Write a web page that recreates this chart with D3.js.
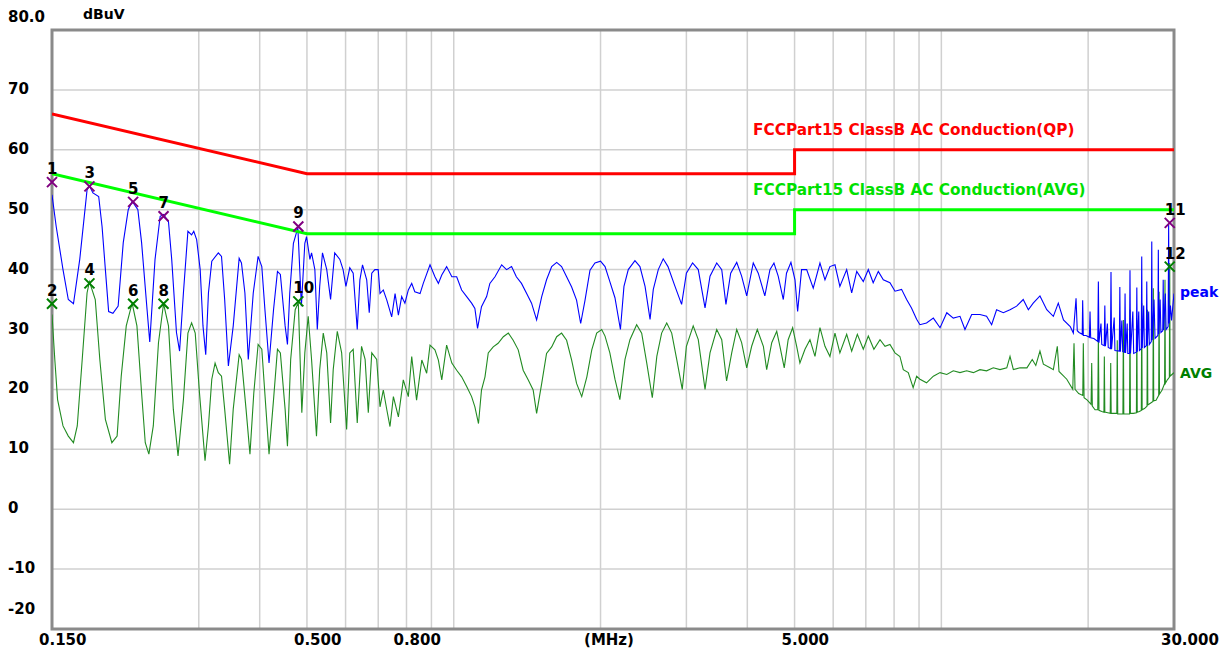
<!DOCTYPE html>
<html>
<head>
<meta charset="utf-8">
<script src="https://cdn.jsdelivr.net/npm/d3@7"></script>
<style>
  html, body { margin: 0; padding: 0; background: #fff; }
  svg { display: block; }
  text { font-family: "DejaVu Sans", Arial, sans-serif; font-weight: bold; }
</style>
</head>
<body>
<svg id="chart" width="1228" height="652"></svg>
<script>
// ---------------- data ----------------
const yTickValues = [80, 70, 60, 50, 40, 30, 20, 10, 0, -10, -20];
const yTickLabels = ["80.0", "70", "60", "50", "40", "30", "20", "10", "0", "-10", "-20"];
const yGridValues = [70, 60, 50, 40, 30, 20, 10, 0, -10];
const xGridFreqs = [0.3, 0.4, 0.5, 0.6, 0.7, 0.8, 0.9, 1, 2, 3, 4, 5, 6, 7, 8, 9, 10, 20];
const xLabelFreqs = [0.15, 0.5, 0.8, 5, 30];
const xLabelTexts = ["0.150", "0.500", "0.800", "5.000", "30.000"];
const yUnit = "dBuV";
const xUnit = "(MHz)";

const limitQP = [[0.15, 66], [0.5, 56], [5, 56], [5, 60], [30, 60]];
const limitAVG = [[0.15, 56], [0.5, 46], [5, 46], [5, 50], [30, 50]];
const limitQPName = "FCCPart15 ClassB AC Conduction(QP)";
const limitAVGName = "FCCPart15 ClassB AC Conduction(AVG)";

const peakTrace = [[0.150,52.5],[0.153,47.2],[0.158,40.0],[0.162,35.0],[0.166,34.3],[0.171,41.7],[0.177,53.3],[0.179,54.0],[0.182,52.8],[0.187,52.2],[0.190,47.2],[0.193,40.0],[0.196,33.0],[0.200,32.7],[0.205,33.9],[0.210,44.5],[0.215,50.0],[0.219,51.4],[0.225,50.0],[0.229,44.5],[0.235,33.3],[0.238,27.9],[0.244,41.7],[0.250,48.9],[0.254,49.2],[0.260,48.0],[0.264,41.7],[0.270,29.5],[0.274,26.4],[0.279,36.1],[0.285,46.4],[0.290,45.8],[0.293,46.4],[0.297,45.0],[0.302,40.0],[0.306,30.6],[0.310,25.8],[0.314,36.1],[0.319,41.4],[0.329,42.8],[0.334,42.2],[0.339,35.0],[0.345,23.9],[0.353,30.6],[0.363,41.9],[0.367,41.1],[0.373,36.1],[0.379,25.0],[0.388,36.1],[0.397,42.2],[0.404,40.5],[0.410,33.3],[0.418,24.4],[0.427,33.3],[0.435,39.7],[0.441,39.2],[0.451,30.6],[0.456,27.5],[0.461,36.1],[0.469,44.4],[0.479,47.0],[0.487,33.9],[0.495,44.4],[0.499,45.5],[0.507,41.7],[0.511,42.8],[0.519,40.0],[0.525,30.0],[0.531,37.2],[0.538,42.8],[0.549,40.0],[0.559,35.0],[0.570,42.8],[0.584,41.7],[0.593,40.0],[0.601,37.2],[0.612,40.3],[0.622,39.4],[0.634,30.0],[0.642,38.3],[0.650,40.8],[0.663,38.3],[0.671,32.8],[0.679,39.4],[0.689,40.0],[0.700,40.0],[0.706,36.0],[0.717,36.6],[0.729,34.9],[0.746,32.1],[0.758,36.0],[0.770,32.4],[0.782,35.5],[0.794,34.4],[0.807,36.6],[0.820,37.7],[0.832,36.3],[0.853,36.0],[0.866,37.7],[0.894,40.8],[0.915,38.8],[0.930,37.7],[0.945,39.1],[0.967,40.5],[0.991,38.8],[1.014,38.8],[1.038,36.6],[1.063,35.5],[1.088,34.4],[1.105,33.5],[1.119,30.2],[1.140,33.8],[1.168,35.5],[1.186,37.7],[1.215,38.8],[1.254,40.8],[1.283,40.0],[1.314,40.5],[1.344,38.8],[1.377,37.7],[1.411,36.0],[1.444,34.4],[1.479,31.6],[1.515,35.5],[1.550,38.3],[1.588,40.5],[1.626,41.2],[1.664,40.5],[1.704,38.8],[1.745,37.1],[1.786,34.9],[1.821,31.0],[1.859,34.9],[1.903,39.9],[1.948,41.1],[2.000,41.4],[2.043,40.5],[2.090,38.0],[2.141,35.3],[2.197,30.0],[2.234,37.2],[2.280,40.0],[2.353,41.5],[2.409,40.5],[2.468,37.2],[2.527,31.7],[2.566,36.7],[2.627,40.0],[2.689,41.8],[2.750,40.5],[2.843,37.2],[2.933,34.2],[3.000,39.4],[3.089,41.1],[3.173,40.0],[3.276,33.6],[3.354,38.9],[3.462,41.1],[3.545,40.0],[3.616,34.2],[3.698,39.4],[3.805,41.2],[3.894,38.9],[3.989,35.6],[4.114,41.1],[4.212,39.4],[4.345,35.6],[4.451,40.0],[4.536,41.1],[4.628,38.9],[4.741,35.0],[4.813,39.4],[4.915,41.2],[5.010,38.3],[5.073,33.0],[5.168,40.0],[5.294,40.0],[5.461,36.9],[5.637,41.1],[5.772,38.3],[5.909,40.5],[6.051,40.8],[6.193,37.2],[6.395,40.0],[6.548,36.1],[6.706,39.7],[6.917,38.0],[7.083,40.0],[7.248,37.8],[7.425,39.7],[7.603,38.3],[7.845,37.8],[8.034,36.4],[8.288,36.7],[8.488,35.0],[8.685,33.6],[8.898,31.7],[9.038,30.8],[9.324,31.1],[9.629,31.9],[9.939,30.3],[10.26,32.8],[10.58,31.9],[10.92,32.2],[11.18,30.0],[11.54,32.5],[12.00,32.5],[12.38,32.2],[12.68,30.8],[12.98,33.3],[13.40,32.8],[13.83,33.3],[14.27,33.9],[14.72,35.0],[15.08,33.3],[15.43,34.4],[15.93,35.6],[16.45,33.3],[16.97,32.2],[17.37,34.4],[17.80,31.6],[18.38,30.5],[18.65,29.4],[18.89,35.2],[19.00,29.8],[19.16,29.5],[19.45,29.2],[19.49,34.9],[19.55,29.0],[19.80,29.0],[20.12,28.7],[20.18,33.0],[20.24,28.6],[20.55,28.5],[20.93,28.0],[20.99,38.0],[21.05,27.8],[21.25,31.0],[21.33,27.5],[21.58,27.3],[21.64,34.0],[21.70,27.2],[21.90,31.0],[21.99,27.0],[22.22,26.8],[22.28,39.6],[22.34,26.7],[22.62,32.0],[22.70,26.5],[23.17,26.4],[23.23,37.1],[23.29,26.3],[23.45,31.5],[23.55,26.3],[23.75,26.2],[23.81,36.0],[23.87,26.1],[24.05,31.0],[24.12,26.0],[24.31,26.0],[24.37,39.9],[24.43,26.0],[24.70,33.0],[24.80,26.0],[25.11,26.2],[25.17,37.0],[25.23,26.3],[25.40,33.0],[25.48,26.5],[25.70,26.8],[25.76,42.2],[25.82,26.9],[26.00,34.0],[26.08,27.0],[26.32,27.3],[26.38,38.0],[26.44,27.3],[26.62,33.0],[26.70,27.5],[26.95,28.0],[27.01,44.7],[27.07,28.2],[27.30,35.0],[27.43,28.5],[27.80,29.0],[27.86,43.3],[27.92,29.2],[28.10,35.0],[28.20,29.5],[28.45,29.8],[28.51,38.3],[28.57,29.9],[28.80,36.0],[28.90,30.0],[29.18,30.5],[29.25,47.5],[29.32,31.0],[29.50,34.0],[29.65,31.5],[30.00,36.0]];

const avgTrace = [[0.150,32.5],[0.152,25.0],[0.154,18.3],[0.158,13.9],[0.162,12.2],[0.166,11.1],[0.169,13.9],[0.173,25.0],[0.177,36.1],[0.179,38.0],[0.184,35.0],[0.188,25.0],[0.193,15.0],[0.199,11.1],[0.204,12.2],[0.208,22.2],[0.213,30.6],[0.219,34.4],[0.224,30.6],[0.229,19.4],[0.233,11.1],[0.237,9.2],[0.242,13.9],[0.248,27.8],[0.254,34.3],[0.260,30.6],[0.266,16.7],[0.272,8.9],[0.279,18.3],[0.285,29.4],[0.290,31.1],[0.295,29.4],[0.301,19.4],[0.309,8.1],[0.314,13.9],[0.319,21.7],[0.324,24.4],[0.329,22.8],[0.334,22.2],[0.339,16.7],[0.347,7.5],[0.353,16.7],[0.363,25.8],[0.367,25.0],[0.375,16.7],[0.382,9.2],[0.389,19.4],[0.397,27.5],[0.404,26.7],[0.412,16.7],[0.418,9.2],[0.427,18.3],[0.435,26.7],[0.441,26.1],[0.451,16.7],[0.456,10.5],[0.463,25.0],[0.473,33.3],[0.480,34.5],[0.488,16.1],[0.495,26.1],[0.503,32.2],[0.511,25.0],[0.523,12.2],[0.531,23.3],[0.540,29.4],[0.549,26.1],[0.559,14.4],[0.566,23.3],[0.577,29.7],[0.589,26.1],[0.603,13.3],[0.612,26.1],[0.622,26.7],[0.634,14.4],[0.647,27.2],[0.658,25.0],[0.668,16.1],[0.679,26.1],[0.695,25.0],[0.706,17.1],[0.717,19.9],[0.729,16.6],[0.740,13.8],[0.752,18.8],[0.770,15.4],[0.788,21.6],[0.807,18.8],[0.820,25.5],[0.839,18.2],[0.860,24.9],[0.880,22.7],[0.894,27.4],[0.915,26.6],[0.930,24.9],[0.945,21.6],[0.967,27.4],[0.991,24.4],[1.014,23.2],[1.038,22.1],[1.063,20.5],[1.088,18.8],[1.105,17.1],[1.124,14.3],[1.140,19.9],[1.159,22.1],[1.177,26.1],[1.205,27.1],[1.233,27.7],[1.264,28.8],[1.294,29.4],[1.324,28.2],[1.356,26.6],[1.388,23.2],[1.421,21.6],[1.455,19.9],[1.479,16.0],[1.515,21.0],[1.550,26.0],[1.588,27.1],[1.626,28.8],[1.664,29.4],[1.704,28.2],[1.745,24.9],[1.786,21.0],[1.830,18.8],[1.875,22.1],[1.919,26.6],[1.964,29.4],[2.011,30.0],[2.043,28.9],[2.090,26.1],[2.141,21.7],[2.191,18.3],[2.245,25.0],[2.298,28.3],[2.372,30.8],[2.429,29.4],[2.488,24.4],[2.554,18.6],[2.609,25.5],[2.669,29.4],[2.734,31.1],[2.799,29.4],[2.866,25.0],[2.942,20.0],[3.000,27.2],[3.098,30.6],[3.173,28.3],[3.276,20.0],[3.354,26.1],[3.462,30.0],[3.545,28.3],[3.627,21.4],[3.716,26.1],[3.805,30.0],[3.894,27.8],[3.989,23.6],[4.083,27.2],[4.193,30.0],[4.315,27.2],[4.383,23.3],[4.489,27.8],[4.596,29.7],[4.666,27.2],[4.762,23.6],[4.851,28.3],[4.955,30.3],[5.050,27.2],[5.128,24.4],[5.252,26.7],[5.377,28.3],[5.506,25.5],[5.637,30.3],[5.772,27.2],[5.909,25.5],[6.051,29.4],[6.193,26.1],[6.395,29.2],[6.548,26.4],[6.725,29.2],[6.917,26.7],[7.083,28.9],[7.272,26.7],[7.485,28.3],[7.664,27.2],[7.845,27.5],[8.034,26.1],[8.223,25.5],[8.355,23.3],[8.553,22.8],[8.753,20.3],[8.898,22.2],[9.038,21.7],[9.324,21.1],[9.629,22.2],[9.939,22.8],[10.26,22.5],[10.58,23.1],[10.92,22.8],[11.27,23.1],[11.63,22.8],[12.00,23.3],[12.38,23.1],[12.78,23.6],[13.19,23.3],[13.62,23.6],[13.83,25.5],[14.05,23.3],[14.50,23.6],[14.98,23.6],[15.36,25.0],[15.62,24.0],[15.93,26.4],[16.19,24.2],[16.71,23.6],[16.97,23.3],[17.29,27.2],[17.43,23.0],[18.08,21.7],[18.60,20.0],[18.71,27.7],[18.80,20.0],[19.13,19.3],[19.50,19.0],[19.55,27.7],[19.62,18.6],[19.92,18.2],[20.28,17.5],[20.34,24.4],[20.40,17.2],[20.66,16.6],[20.93,16.6],[20.99,28.8],[21.05,16.5],[21.33,16.3],[21.55,16.2],[21.59,25.5],[21.64,16.2],[21.94,16.1],[22.20,16.0],[22.25,24.4],[22.30,16.0],[22.60,16.0],[22.90,16.0],[22.95,28.2],[23.00,15.9],[23.28,15.9],[23.57,15.9],[23.62,31.6],[23.67,15.9],[24.01,15.9],[24.32,15.9],[24.37,33.3],[24.42,16.0],[24.76,16.0],[25.12,16.1],[25.17,31.6],[25.22,16.2],[25.47,16.3],[25.71,16.5],[25.76,34.4],[25.81,16.6],[26.09,16.8],[26.41,17.2],[26.46,33.3],[26.51,17.4],[26.83,17.7],[27.16,18.0],[27.21,36.9],[27.26,18.1],[27.56,18.2],[27.91,19.0],[27.96,36.3],[28.01,19.2],[28.36,19.9],[28.70,21.0],[28.75,38.3],[28.80,21.0],[29.07,21.6],[29.35,22.0],[29.40,41.1],[29.45,22.2],[29.90,22.7],[30.00,22.8]];

const peakMarkerIds = ["1", "3", "5", "7", "9", "11"];
const peakMarkerFreqs = [0.150, 0.179, 0.220, 0.254, 0.480, 29.4];
const peakMarkerLevels = [54.6, 53.9, 51.3, 48.9, 47.2, 47.8];
const avgMarkerIds = ["2", "4", "6", "8", "10", "12"];
const avgMarkerFreqs = [0.150, 0.179, 0.220, 0.254, 0.480, 29.4];
const avgMarkerLevels = [34.3, 37.7, 34.3, 34.3, 34.7, 40.5];

const traceNames = ["peak", "AVG"];

// ---------------- drawing ----------------
(function () {
const svg = d3.select("#chart");
const pL = 52, pR = 1174, pT = 30, pB = 629;

const x = d3.scaleLog().domain([0.15, 30]).range([pL, pR]);
const y = d3.scaleLinear().domain([-20, 80]).range([pB, pT]);

svg.append("rect").attr("x", 0).attr("y", 0).attr("width", 1228).attr("height", 652).attr("fill", "#fff");

svg.append("defs").append("clipPath").attr("id", "plotclip")
  .append("rect").attr("x", pL).attr("y", pT).attr("width", pR - pL).attr("height", pB - pT);

// grid
const grid = svg.append("g").attr("stroke", "#d0d0d0").attr("stroke-width", 1.5);
grid.selectAll("line.v").data(xGridFreqs).enter().append("line")
  .attr("x1", d => x(d)).attr("x2", d => x(d)).attr("y1", pT).attr("y2", pB);
grid.selectAll("line.h").data(yGridValues).enter().append("line")
  .attr("x1", pL).attr("x2", pR).attr("y1", d => y(d)).attr("y2", d => y(d));

// frame
svg.append("rect").attr("x", pL).attr("y", pT).attr("width", pR - pL).attr("height", pB - pT)
  .attr("fill", "none").attr("stroke", "#8a8a8a").attr("stroke-width", 3);

// y tick labels
svg.append("g").selectAll("text").data(yTickValues).enter().append("text")
  .attr("x", 8)
  .attr("y", (d, i) => i === 0 ? y(d) - 8 : (i === yTickValues.length - 1 ? y(d) - 15 : y(d) + 4))
  .attr("font-size", 15).attr("fill", "#000")
  .text((d, i) => yTickLabels[i]);

svg.append("text").attr("x", 83).attr("y", 19).attr("font-size", 14).attr("fill", "#000").text(yUnit);

// x tick labels
svg.append("g").selectAll("text").data(xLabelFreqs).enter().append("text")
  .attr("x", d => x(d) - 13).attr("y", 645)
  .attr("font-size", 15).attr("fill", "#000")
  .text((d, i) => xLabelTexts[i]);
svg.append("text").attr("x", (pL + pR) / 2 - 4).attr("y", 645).attr("text-anchor", "middle")
  .attr("font-size", 15).attr("fill", "#000").text(xUnit);

const line = d3.line().x(d => x(d[0])).y(d => y(d[1]));
const plot = svg.append("g").attr("clip-path", "url(#plotclip)");

// traces
plot.append("path").datum(avgTrace).attr("d", line)
  .attr("fill", "none").attr("stroke", "#228b22").attr("stroke-width", 1.1);
plot.append("path").datum(peakTrace).attr("d", line)
  .attr("fill", "none").attr("stroke", "#0000ff").attr("stroke-width", 1.1);

// limit lines
plot.append("path").datum(limitQP).attr("d", line)
  .attr("fill", "none").attr("stroke", "#ff0000").attr("stroke-width", 3);
plot.append("path").datum(limitAVG).attr("d", line)
  .attr("fill", "none").attr("stroke", "#00ff00").attr("stroke-width", 3);

svg.append("text").attr("x", 753).attr("y", 135).attr("font-size", 15.3).attr("fill", "#ff0000").text(limitQPName);
svg.append("text").attr("x", 753).attr("y", 195).attr("font-size", 15.3).attr("fill", "#00e000").text(limitAVGName);

// markers
function drawMarkers(ids, freqs, levels, color) {
  const g = svg.append("g");
  ids.forEach((id, i) => {
    const cx = x(freqs[i]), cy = y(levels[i]);
    g.append("path")
      .attr("d", `M${cx - 5},${cy - 5}L${cx + 5},${cy + 5}M${cx - 5},${cy + 5}L${cx + 5},${cy - 5}`)
      .attr("stroke", color).attr("stroke-width", 2).attr("fill", "none");
    g.append("text").attr("x", cx - 5).attr("y", cy - 8)
      .attr("font-size", 15).attr("fill", "#000").text(id);
  });
}
drawMarkers(peakMarkerIds, peakMarkerFreqs, peakMarkerLevels, "#800080");
drawMarkers(avgMarkerIds, avgMarkerFreqs, avgMarkerLevels, "#008000");

// trace names at right end
svg.append("text").attr("x", 1180).attr("y", y(peakTrace[peakTrace.length - 1][1]) + 3)
  .attr("font-size", 14).attr("fill", "#0000ff").text(traceNames[0]);
svg.append("text").attr("x", 1180).attr("y", y(avgTrace[avgTrace.length - 1][1]) + 5)
  .attr("font-size", 14).attr("fill", "#008000").text(traceNames[1]);
})();
</script>
</body>
</html>
